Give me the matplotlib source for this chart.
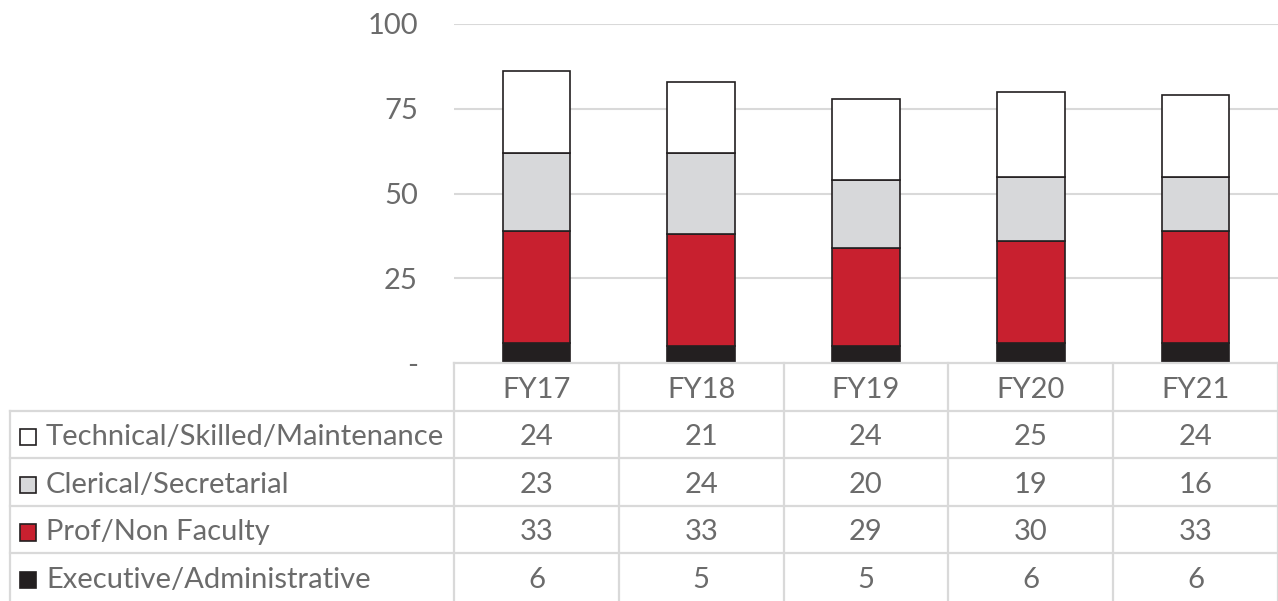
import matplotlib.pyplot as plt
from matplotlib.patches import Rectangle

# --------------------------------
# Data (headcount by category)
# --------------------------------
years = ["FY17", "FY18", "FY19", "FY20", "FY21"]
executive = [6, 5, 5, 6, 6]
prof_non_faculty = [33, 33, 29, 30, 33]
clerical = [23, 24, 20, 19, 16]
technical = [24, 21, 24, 25, 24]

# stacking order bottom -> top
series = [
    ("Executive/Administrative", executive, "#231f20"),
    ("Prof/Non Faculty", prof_non_faculty, "#c8202f"),
    ("Clerical/Secretarial", clerical, "#d7d8da"),
    ("Technical/Skilled/Maintenance", technical, "#ffffff"),
]
yticks = [0, 25, 50, 75, 100]
ytick_labels = ["-", "25", "50", "75", "100"]

plt.rcParams['font.family'] = ['Lato', 'DejaVu Sans']
text_col = "#6b6b6b"
grid_col = "#d9d9d9"
edge_col = "#231f20"
fs = 21

W, H = 1278, 601
fig = plt.figure(figsize=(W / 100, H / 100), dpi=100)

x_left, x_right = 454, 1278
y_top, y_zero = 24, 363
ax = fig.add_axes([x_left / W, (H - y_zero) / H, (x_right - x_left) / W, (y_zero - y_top) / H])

x = range(len(years))
bottom = [0] * len(years)
for name, vals, col in series:
    ax.bar(x, vals, bottom=bottom, width=0.41, color=col, edgecolor=edge_col,
           linewidth=1.2, zorder=3)
    bottom = [b + v for b, v in zip(bottom, vals)]

ax.set_xlim(-0.5, len(years) - 0.5)
ax.set_ylim(0, 100)
ax.set_yticks(yticks)
ax.set_yticklabels(ytick_labels, color=text_col, fontsize=fs)
ax.tick_params(axis="y", length=0, pad=26)
ax.set_xticks([])
for t in yticks[1:]:
    ax.axhline(t, color=grid_col, linewidth=1.5, zorder=1)
for s in ax.spines.values():
    s.set_visible(False)

# --------------------------------
# Data table underneath
# --------------------------------
tab = fig.add_axes([x_left / W, 0, (x_right - x_left) / W, (H - y_zero) / H])
tab.set_xlim(-0.5, len(years) - 0.5)
n_rows = len(series) + 1
tab.set_ylim(n_rows, 0)
tab.axis("off")

cat_px = (x_right - x_left) / len(years)
label_left = -0.5 - (x_left - 10) / cat_px

line_kw = dict(color=grid_col, linewidth=1.6, clip_on=False)
tab.plot([-0.5, len(years) - 0.5], [0, 0], **line_kw)
for r in range(1, n_rows):
    tab.plot([label_left, len(years) - 0.5], [r, r], **line_kw)
tab.plot([label_left, label_left], [1, n_rows], **line_kw)
for c in range(len(years) + 1):
    tab.plot([c - 0.5, c - 0.5], [0, n_rows], **line_kw)

ty = 0.56  # text vertical position inside a row
for i, yr in enumerate(years):
    tab.text(i, ty, yr, ha="center", va="center", color=text_col, fontsize=fs)

# rows listed top -> bottom (reverse of stacking)
box_w = 16 / cat_px
for r, (name, vals, col) in enumerate(reversed(series), start=1):
    for i, v in enumerate(vals):
        tab.text(i, r + ty, str(v), ha="center", va="center", color=text_col, fontsize=fs)
    bx = -0.5 - (x_left - 20) / cat_px
    tab.add_patch(Rectangle((bx, r + ty - 0.17), box_w, 0.34, facecolor=col,
                            edgecolor=edge_col, linewidth=1.2, clip_on=False))
    tab.text(-0.5 - (x_left - 46) / cat_px, r + ty, name, ha="left", va="center",
             color=text_col, fontsize=fs, clip_on=False)

plt.savefig("out.png", dpi=100)
